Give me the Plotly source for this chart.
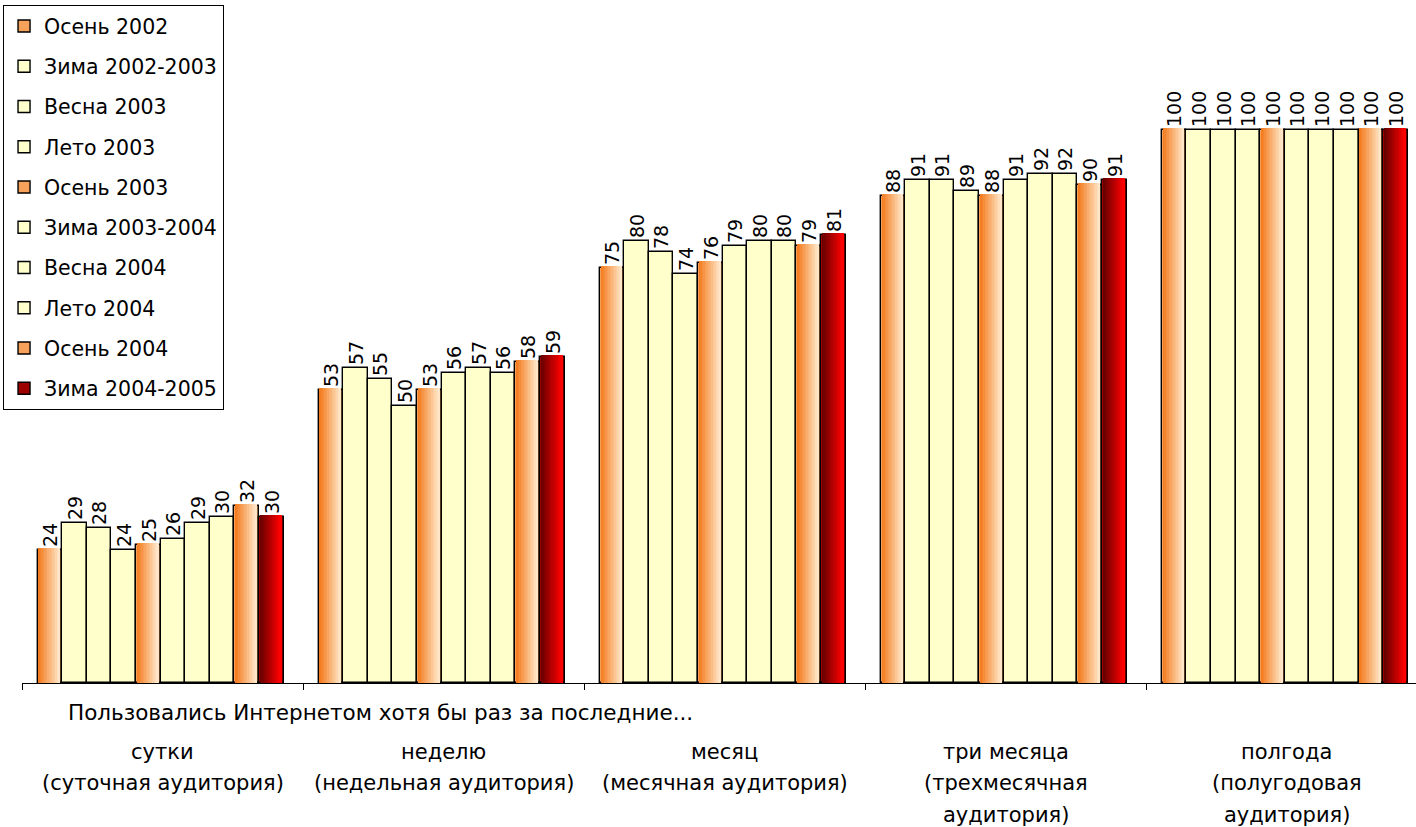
import plotly.graph_objects as go

# Categories along the x axis: (short label, audience label lines)
categories = ["сутки", "неделю", "месяц", "три месяца", "полгода"]
category_notes = [
    ["(суточная аудитория)"],
    ["(недельная аудитория)"],
    ["(месячная аудитория)"],
    ["(трехмесячная", "аудитория)"],
    ["(полугодовая", "аудитория)"],
]

# Survey waves (series)
waves = [
    "Осень 2002", "Зима 2002-2003", "Весна 2003", "Лето 2003", "Осень 2003",
    "Зима 2003-2004", "Весна 2004", "Лето 2004", "Осень 2004", "Зима 2004-2005",
]

# Share of users (%) per wave, one list per category
sutki = [24, 29, 28, 24, 25, 26, 29, 30, 32, 30]
nedelya = [53, 57, 55, 50, 53, 56, 57, 56, 58, 59]
mesyac = [75, 80, 78, 74, 76, 79, 80, 80, 79, 81]
tri_mesyaca = [88, 91, 91, 89, 88, 91, 92, 92, 90, 91]
polgoda = [100, 100, 100, 100, 100, 100, 100, 100, 100, 100]
values_by_category = [sutki, nedelya, mesyac, tri_mesyaca, polgoda]

axis_title = "Пользовались Интернетом хотя бы раз за последние..."

# Fill style per wave: autumn waves orange gradient, the latest wave red gradient
PALE = "#ffffcc"
ORANGE = ((243, 125, 32), (255, 230, 200))
RED = ((105, 0, 0), (255, 0, 0))


def wave_style(name, idx):
    if idx == len(waves) - 1:
        return RED
    if name.startswith("Осень"):
        return ORANGE
    return None


FONT = "DejaVu Sans"
PX_PER_UNIT = 281.0           # pixels per category on the x axis
BAR_W = 24.6 / PX_PER_UNIT    # width of a single bar
GROUP_OFF = 15.5 / PX_PER_UNIT
N_SLICES = 14


def bar_center(g, s):
    return g - 0.5 + GROUP_OFF + (s + 0.5) * BAR_W


def mix(c0, c1, t):
    return "rgb(%d,%d,%d)" % tuple(round(a + (b - a) * t) for a, b in zip(c0, c1))


fig = go.Figure()

for s, name in enumerate(waves):
    ys = [vals[s] for vals in values_by_category]
    xs = [bar_center(g, s) for g in range(len(categories))]
    grad = wave_style(name, s)
    base_color = PALE if grad is None else mix(grad[0], grad[1], 0.35)

    # bar body with black outline (also supplies the legend swatch)
    fig.add_trace(go.Bar(
        x=xs, y=ys, width=[BAR_W] * len(xs), name=name,
        legendgroup=name,
        marker=dict(color=base_color, line=dict(color="black", width=1.4)),
        hoverinfo="skip",
    ))

    if grad is not None:
        # horizontal colour gradient built from thin vertical slices
        inner_l = 1.5 / PX_PER_UNIT
        inner_w = BAR_W - 3.5 / PX_PER_UNIT
        sw = inner_w / N_SLICES
        sx, sy, scol = [], [], []
        for k in range(N_SLICES):
            t = k / (N_SLICES - 1)
            for g, v in enumerate(ys):
                left = xs[g] - BAR_W / 2 + inner_l
                sx.append(left + (k + 0.5) * sw)
                sy.append(v + 0.35)
                scol.append(mix(grad[0], grad[1], t))
        fig.add_trace(go.Bar(
            x=sx, y=sy, width=[sw * 1.08] * len(sx),
            legendgroup=name, showlegend=False,
            marker=dict(color=scol, line=dict(width=0)),
            hoverinfo="skip",
        ))

# value labels above every bar
for s, name in enumerate(waves):
    ys = [vals[s] for vals in values_by_category]
    xs = [bar_center(g, s) for g in range(len(categories))]
    fig.add_trace(go.Bar(
        x=xs, y=ys, width=[BAR_W] * len(xs),
        legendgroup=name, showlegend=False,
        marker=dict(color="rgba(0,0,0,0)", line=dict(width=0)),
        text=[str(v) for v in ys], textposition="outside", textangle=-90,
        constraintext="none", cliponaxis=False,
        textfont=dict(family=FONT, size=19, color="black"),
        hoverinfo="skip",
    ))

# axis caption and category labels below the axis
annotations = [dict(
    text=axis_title, xref="paper", yref="paper", x=0.257, y=-0.0425,
    xanchor="center", yanchor="middle", showarrow=False,
    font=dict(family=FONT, size=21.5, color="black"),
)]
line_y = [752, 783, 815]
for g, (cat, notes) in enumerate(zip(categories, category_notes)):
    for i, line in enumerate([cat] + notes):
        annotations.append(dict(
            text=line, xref="x", yref="paper", x=g,
            y=(683 - line_y[i]) / 683.0,
            xanchor="center", yanchor="middle", showarrow=False,
            font=dict(family=FONT, size=21, color="black"),
        ))

dividers = [g - 0.5 for g in range(len(categories) + 1)]

fig.update_layout(
    width=1416, height=827,
    margin=dict(l=22, r=0, t=0, b=144, autoexpand=False),
    barmode="overlay", bargap=0,
    paper_bgcolor="white", plot_bgcolor="white",
    showlegend=True,
    legend=dict(
        xref="container", yref="container", x=0.002, y=0.994,
        xanchor="left", yanchor="top",
        bgcolor="white", bordercolor="black", borderwidth=1.2,
        font=dict(family=FONT, size=20.5, color="black"),
        traceorder="grouped", tracegroupgap=10.6, maxheight=1.0,
    ),
    xaxis=dict(
        range=[-0.5, 4.46], showgrid=False, zeroline=False,
        showline=True, linecolor="black", linewidth=1.2,
        tickvals=dividers, ticktext=[""] * len(dividers),
        ticks="outside", ticklen=6, tickcolor="black", tickwidth=1.2,
    ),
    yaxis=dict(range=[0, 123.5], visible=False),
    annotations=annotations,
)

fig.write_html("out.html")
